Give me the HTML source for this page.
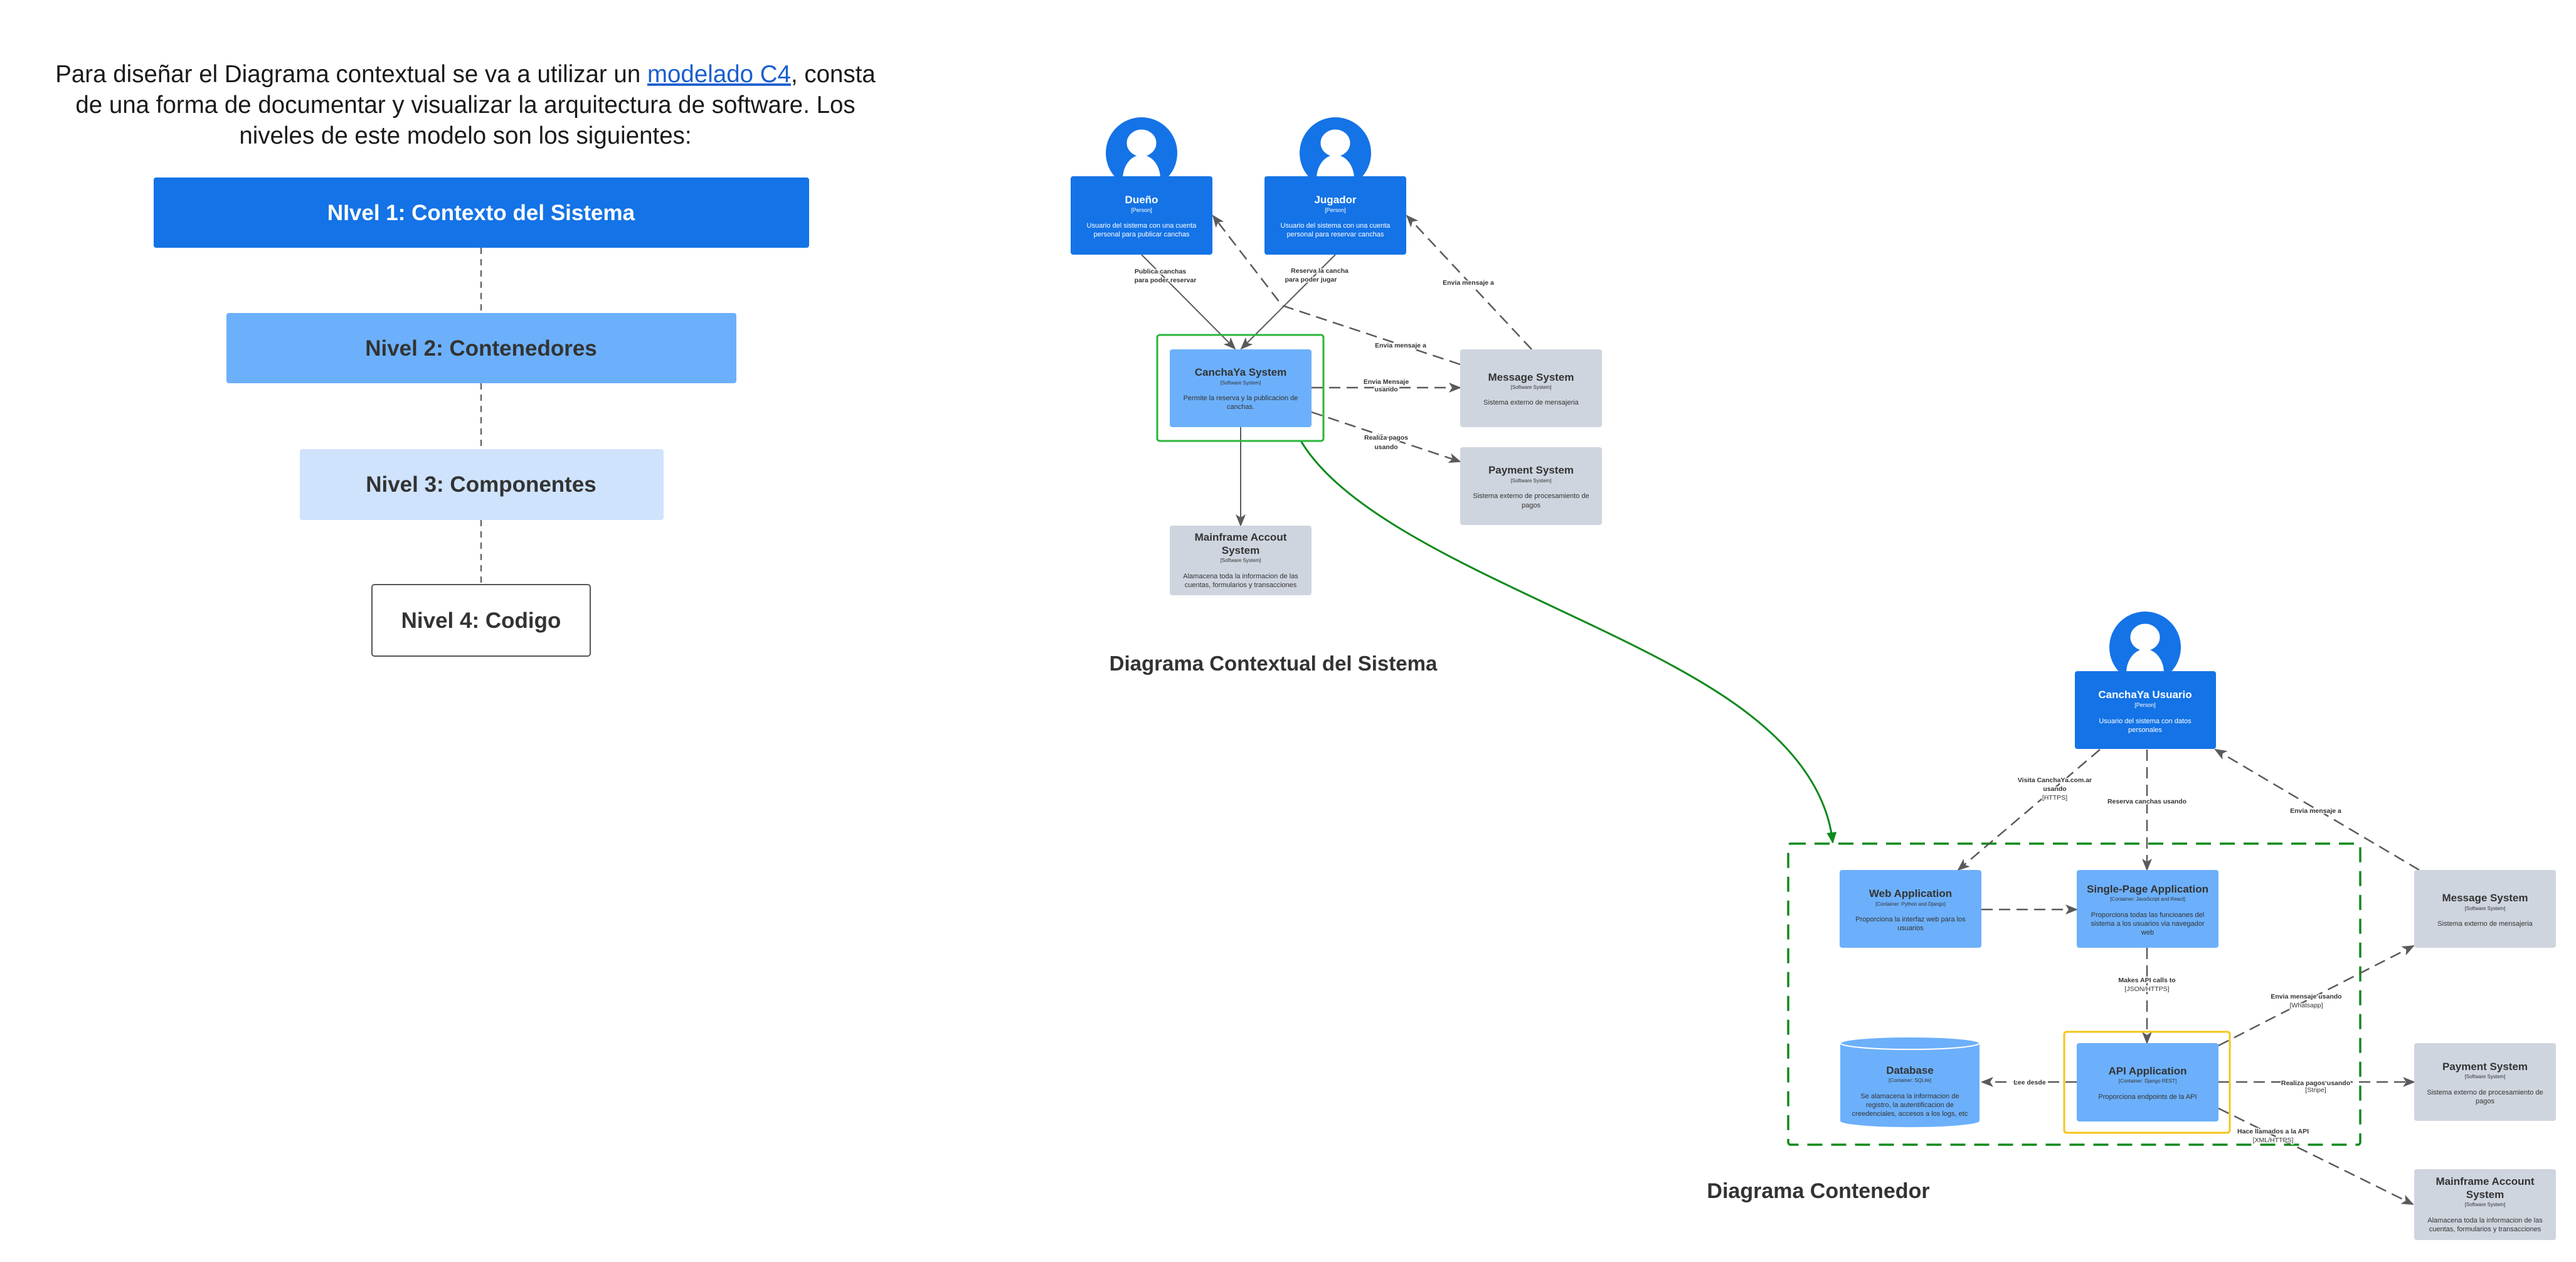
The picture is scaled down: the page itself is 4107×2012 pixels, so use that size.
<!DOCTYPE html>
<html><head><meta charset="utf-8"><style>
html,body{margin:0;padding:0;background:#fff;}
svg{display:block;font-family:"Liberation Sans",sans-serif;}
</style></head><body>
<svg width="4107" height="2012" viewBox="0 0 4107 2012" xmlns="http://www.w3.org/2000/svg">
<defs>
<marker id="ah" markerUnits="userSpaceOnUse" markerWidth="20" markerHeight="16" refX="18" refY="8" orient="auto">
<path d="M0,0 L20,8 L0,16 L5,8 z" fill="#5a5a5a"/></marker>
<marker id="ag" markerUnits="userSpaceOnUse" markerWidth="20" markerHeight="20" refX="16" refY="8" orient="auto">
<path d="M0,0 L18,8 L0,16 z" fill="#0e8a1c"/></marker>
</defs>

<!-- Left intro -->
<g font-size="38.5" fill="#1a1a1a" text-anchor="middle">
<text x="742" y="131">Para diseñar el Diagrama contextual se va a utilizar un <tspan fill="#1a5fd0" text-decoration="underline">modelado C4</tspan>, consta</text>
<text x="742" y="180">de una forma de documentar y visualizar la arquitectura de software. Los</text>
<text x="742" y="229">niveles de este modelo son los siguientes:</text>
</g>
<g stroke="#555" stroke-width="2" stroke-dasharray="10,8">
<line x1="767" y1="395" x2="767" y2="499"/><line x1="767" y1="611" x2="767" y2="716"/><line x1="767" y1="829" x2="767" y2="932"/>
</g>
<rect x="245" y="283" width="1045" height="112" rx="4" fill="#1473e6"/>
<rect x="361" y="499" width="813" height="112" rx="4" fill="#6cb0fb"/>
<rect x="478" y="716" width="580" height="113" rx="4" fill="#cfe3fc"/>
<rect x="593" y="932" width="348" height="114" rx="4" fill="#fff" stroke="#555" stroke-width="2"/>
<g font-size="35" font-weight="bold" text-anchor="middle">
<text x="767" y="351" fill="#fff">NIvel 1: Contexto del Sistema</text>
<text x="767" y="567" fill="#333">Nivel 2: Contenedores</text>
<text x="767" y="784" fill="#333">Nivel 3: Componentes</text>
<text x="767" y="1001" fill="#333">Nivel 4: Codigo</text>
</g>

<!-- Context diagram connectors -->
<g stroke="#5a5a5a" stroke-width="2" fill="none">
<line x1="1820" y1="406" x2="1969" y2="556" marker-end="url(#ah)"/>
<line x1="2129" y1="406" x2="1979" y2="556" marker-end="url(#ah)"/>
<line x1="1978" y1="681" x2="1978" y2="838" marker-end="url(#ah)"/>
<g stroke-dasharray="18,10" stroke-width="2.5">
<polyline points="2328,581 2044,487 1934,344" marker-end="url(#ah)"/>
<line x1="2442" y1="557" x2="2243" y2="344" marker-end="url(#ah)"/>
<line x1="2091" y1="618" x2="2328" y2="618" marker-end="url(#ah)"/>
<line x1="2091" y1="657" x2="2328" y2="736" marker-end="url(#ah)"/>
</g>
</g>
<path d="M2074,703 C2180,880 2600,990 2790,1140 C2880,1210 2915,1280 2922,1343" stroke="#0e8a1c" stroke-width="3" fill="none" marker-end="url(#ag)"/>

<!-- Persons context -->
<g>
<circle cx="1820" cy="244" r="57" fill="#1473e6"/>
<ellipse cx="1820" cy="228" rx="25" ry="23" fill="#fff" stroke="#1473e6" stroke-width="3"/>
<ellipse cx="1820" cy="285" rx="30" ry="38" fill="#fff"/>
<rect x="1707" y="281" width="226" height="125" rx="4" fill="#1473e6"/>
<circle cx="2129" cy="244" r="57" fill="#1473e6"/>
<ellipse cx="2129" cy="228" rx="25" ry="23" fill="#fff" stroke="#1473e6" stroke-width="3"/>
<ellipse cx="2129" cy="285" rx="30" ry="38" fill="#fff"/>
<rect x="2016" y="281" width="226" height="125" rx="4" fill="#1473e6"/>
</g>
<g fill="#fff" text-anchor="middle">
<text x="1820" y="324" font-size="17" font-weight="bold">Dueño</text>
<text x="1820" y="338" font-size="9">[Person]</text>
<text x="1820" y="363" font-size="11">Usuario del sistema con una cuenta</text>
<text x="1820" y="377" font-size="11">personal para publicar canchas</text>
<text x="2129" y="324" font-size="17" font-weight="bold">Jugador</text>
<text x="2129" y="338" font-size="9">[Person]</text>
<text x="2129" y="363" font-size="11">Usuario del sistema con una cuenta</text>
<text x="2129" y="377" font-size="11">personal para reservar canchas</text>
</g>

<!-- Systems context -->
<rect x="1845" y="534" width="265" height="169" rx="4" fill="none" stroke="#2bb63a" stroke-width="3"/>
<rect x="1865" y="557" width="226" height="124" rx="4" fill="#6cb0fb"/>
<rect x="2328" y="557" width="226" height="124" rx="4" fill="#cfd5de"/>
<rect x="2328" y="713" width="226" height="124" rx="4" fill="#cfd5de"/>
<rect x="1865" y="838" width="226" height="111" rx="4" fill="#cfd5de"/>
<g fill="#333" text-anchor="middle">
<text x="1978" y="599" font-size="17" font-weight="bold">CanchaYa System</text>
<text x="1978" y="613" font-size="8">[Software System]</text>
<text x="1978" y="638" font-size="11">Permite la reserva y la publicacion de</text>
<text x="1978" y="652" font-size="11">canchas.</text>
<text x="2441" y="607" font-size="17" font-weight="bold">Message System</text>
<text x="2441" y="620" font-size="8">[Software System]</text>
<text x="2441" y="645" font-size="11">Sistema externo de mensajeria</text>
<text x="2441" y="755" font-size="17" font-weight="bold">Payment System</text>
<text x="2441" y="769" font-size="8">[Software System]</text>
<text x="2441" y="794" font-size="11">Sistema externo de procesamiento de</text>
<text x="2441" y="809" font-size="11">pagos</text>
<text x="1978" y="862" font-size="17" font-weight="bold">Mainframe Accout</text>
<text x="1978" y="883" font-size="17" font-weight="bold">System</text>
<text x="1978" y="896" font-size="8">[Software System]</text>
<text x="1978" y="922" font-size="11">Alamacena toda la informacion de las</text>
<text x="1978" y="936" font-size="11">cuentas, formularios y transacciones</text>
</g>
<g fill="#333" text-anchor="middle" font-size="10.5" font-weight="bold" stroke="#fff" stroke-width="3" paint-order="stroke">
<text x="1850" y="436">Publica canchas</text>
<text x="1858" y="450">para poder reservar</text>
<text x="2104" y="435">Reserva la cancha</text>
<text x="2090" y="449">para poder jugar</text>
<text x="2341" y="454">Envia mensaje a</text>
<text x="2233" y="554">Envia mensaje a</text>
<text x="2210" y="612">Envia Mensaje</text>
<text x="2210" y="624">usando</text>
<text x="2210" y="701">Realiza pagos</text>
<text x="2210" y="716">usando</text>
</g>
<text x="2030" y="1069" font-size="33" font-weight="bold" fill="#333" text-anchor="middle">Diagrama Contextual del Sistema</text>

<!-- Container diagram -->
<rect x="2851" y="1345" width="912" height="480" rx="4" fill="none" stroke="#0e8a1c" stroke-width="3.5" stroke-dasharray="24,14"/>
<g stroke="#5a5a5a" stroke-width="2.5" fill="none" stroke-dasharray="18,10">
<line x1="3348" y1="1195" x2="3122" y2="1387" marker-end="url(#ah)"/>
<line x1="3423" y1="1195" x2="3423" y2="1387" marker-end="url(#ah)"/>
<line x1="3857" y1="1387" x2="3532" y2="1195" marker-end="url(#ah)"/>
<line x1="3159" y1="1450" x2="3311" y2="1450" marker-end="url(#ah)"/>
<line x1="3423" y1="1511" x2="3423" y2="1663" marker-end="url(#ah)"/>
<line x1="3537" y1="1667" x2="3848" y2="1508" marker-end="url(#ah)"/>
<line x1="3311" y1="1725" x2="3160" y2="1725" marker-end="url(#ah)"/>
<line x1="3537" y1="1725" x2="3849" y2="1725" marker-end="url(#ah)"/>
<line x1="3537" y1="1767" x2="3847" y2="1920" marker-end="url(#ah)"/>
</g>
<circle cx="3420" cy="1032" r="57" fill="#1473e6"/>
<ellipse cx="3420" cy="1016" rx="25" ry="23" fill="#fff" stroke="#1473e6" stroke-width="3"/>
<ellipse cx="3420" cy="1073" rx="30" ry="38" fill="#fff"/>
<rect x="3308" y="1070" width="225" height="124" rx="4" fill="#1473e6"/>
<g fill="#fff" text-anchor="middle">
<text x="3420" y="1113" font-size="17" font-weight="bold">CanchaYa Usuario</text>
<text x="3420" y="1127" font-size="9">[Person]</text>
<text x="3420" y="1153" font-size="11">Usuario del sistema con datos</text>
<text x="3420" y="1167" font-size="11">personales</text>
</g>
<rect x="2933" y="1387" width="226" height="124" rx="4" fill="#6cb0fb"/>
<rect x="3311" y="1387" width="226" height="124" rx="4" fill="#6cb0fb"/>
<rect x="3291" y="1645" width="264" height="161" rx="4" fill="none" stroke="#f5c518" stroke-width="3"/>
<rect x="3311" y="1663" width="226" height="125" rx="4" fill="#6cb0fb"/>
<path d="M2934,1663 L2934,1787 A111,10 0 0 0 3156,1787 L3156,1663 z" fill="#6cb0fb"/>
<ellipse cx="3045" cy="1663" rx="111" ry="10" fill="#6cb0fb" stroke="#fff" stroke-width="2"/>
<rect x="3849" y="1387" width="226" height="124" rx="4" fill="#cfd5de"/>
<rect x="3849" y="1663" width="226" height="124" rx="4" fill="#cfd5de"/>
<rect x="3849" y="1864" width="226" height="113" rx="4" fill="#cfd5de"/>
<g fill="#333" text-anchor="middle">
<text x="3046" y="1430" font-size="17" font-weight="bold">Web Application</text>
<text x="3046" y="1444" font-size="8">[Container: Python and Django]</text>
<text x="3046" y="1469" font-size="11">Proporciona la interfaz web para los</text>
<text x="3046" y="1483" font-size="11">usuarios</text>
<text x="3424" y="1423" font-size="17" font-weight="bold">Single-Page Application</text>
<text x="3424" y="1436" font-size="8">[Container: JavaScript and React]</text>
<text x="3424" y="1462" font-size="11">Proporciona todas las funcioanes del</text>
<text x="3424" y="1476" font-size="11">sistema a los usuarios via navegador</text>
<text x="3424" y="1490" font-size="11">web</text>
<text x="3045" y="1712" font-size="17" font-weight="bold">Database</text>
<text x="3045" y="1725" font-size="8">[Container: SQLite]</text>
<text x="3045" y="1751" font-size="11">Se alamacena la informacion de</text>
<text x="3045" y="1765" font-size="11">registro, la autentificacion de</text>
<text x="3045" y="1779" font-size="11">creedenciales, accesos a los logs, etc</text>
<text x="3424" y="1713" font-size="17" font-weight="bold">API Application</text>
<text x="3424" y="1726" font-size="8">[Container: Django REST]</text>
<text x="3424" y="1752" font-size="11">Proporciona endpoints de la API</text>
<text x="3962" y="1437" font-size="17" font-weight="bold">Message System</text>
<text x="3962" y="1451" font-size="8">[Software System]</text>
<text x="3962" y="1476" font-size="11">Sistema externo de mensajeria</text>
<text x="3962" y="1706" font-size="17" font-weight="bold">Payment System</text>
<text x="3962" y="1719" font-size="8">[Software System]</text>
<text x="3962" y="1745" font-size="11">Sistema externo de procesamiento de</text>
<text x="3962" y="1759" font-size="11">pagos</text>
<text x="3962" y="1889" font-size="17" font-weight="bold">Mainframe Account</text>
<text x="3962" y="1910" font-size="17" font-weight="bold">System</text>
<text x="3962" y="1923" font-size="8">[Software System]</text>
<text x="3962" y="1949" font-size="11">Alamacena toda la informacion de las</text>
<text x="3962" y="1963" font-size="11">cuentas, formularios y transacciones</text>
</g>
<g fill="#333" text-anchor="middle" font-size="10.5" stroke="#fff" stroke-width="3" paint-order="stroke">
<text x="3276" y="1247" font-weight="bold">Visita CanchaYa.com.ar</text>
<text x="3276" y="1261" font-weight="bold">usando</text>
<text x="3276" y="1275">[HTTPS]</text>
<text x="3423" y="1281" font-weight="bold">Reserva canchas usando</text>
<text x="3692" y="1296" font-weight="bold">Envia mensaje a</text>
<text x="3423" y="1566" font-weight="bold">Makes API calls to</text>
<text x="3423" y="1580">[JSON/HTTPS]</text>
<text x="3677" y="1592" font-weight="bold">Envia mensaje usando</text>
<text x="3677" y="1606">[Whatsapp]</text>
<text x="3236" y="1729" font-weight="bold">Lee desde</text>
<text x="3692" y="1730" font-weight="bold">Realiza pagos usando</text>
<text x="3692" y="1741">[Stripe]</text>
<text x="3624" y="1807" font-weight="bold">Hace llamados a la API</text>
<text x="3624" y="1821">[XML/HTTPS]</text>
</g>
<text x="2899" y="1910" font-size="34" font-weight="bold" fill="#333" text-anchor="middle">Diagrama Contenedor</text>
</svg>
</body></html>
